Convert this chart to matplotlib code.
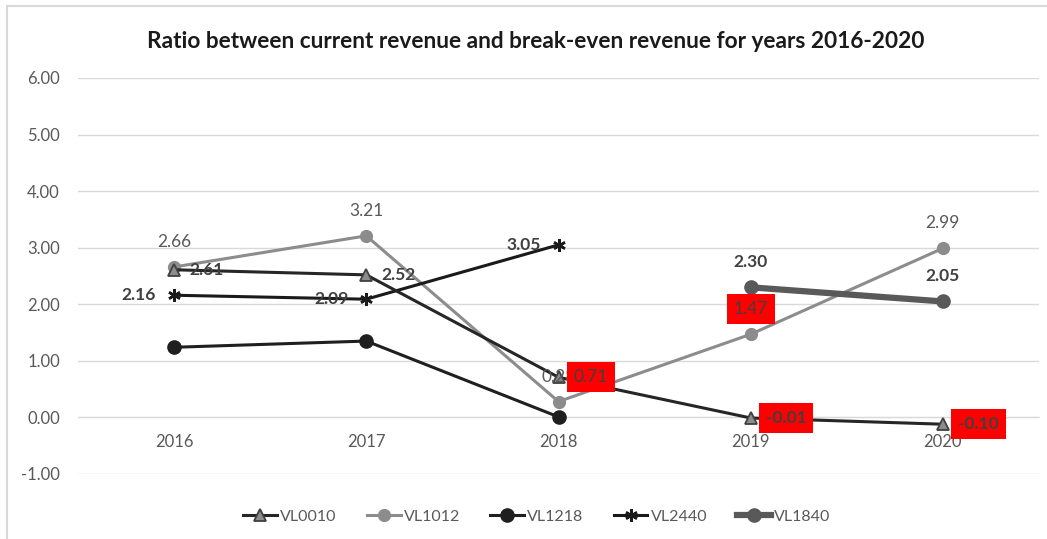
import numpy as np
import matplotlib
matplotlib.use("Agg")
import matplotlib.pyplot as plt
from matplotlib.patches import Rectangle

plt.rcParams['font.family'] = ['Lato', 'DejaVu Sans']

years = ['2016', '2017', '2018', '2019', '2020']
vl0010 = [2.61, 2.52, 0.71, -0.01, -0.12]
vl1012 = [2.66, 3.21, 0.28, 1.47, 2.99]
vl1218 = [1.24, 1.35, 0.01, np.nan, np.nan]
vl2440 = [2.16, 2.09, 3.05, np.nan, np.nan]
vl1840 = [np.nan, np.nan, np.nan, 2.30, 2.05]
labels_0010 = ['2.61', '2.52', '0.71', '-0.01', '-0.10']
labels_1012 = ['2.66', '3.21', '0.28', '1.47', '2.99']
labels_2440 = ['2.16', '2.09', '3.05', None, None]
labels_1840 = [None, None, None, '2.30', '2.05']
yticks = [-1, 0, 1, 2, 3, 4, 5, 6]

W, H = 1047, 539
fig = plt.figure(figsize=(W / 100, H / 100), dpi=100)
ax = fig.add_axes([78 / W, (H - 474) / H, (1039 - 78) / W, (474 - 78) / H])

# chart border (partially cropped)
fig.patches.append(Rectangle((7 / W, -0.1), 1.2, (H - 6) / H + 0.1, transform=fig.transFigure,
                             fill=False, edgecolor='#d9d9d9', linewidth=1.5))

x = np.arange(len(years))
PX = 0.72  # px -> points

ax.plot(x, vl1012, color='#8c8c8c', lw=2.2, marker='o', ms=8.5, label='VL1012', zorder=3)
ax.plot(x, vl0010, color='#262626', lw=2.2, marker='^', ms=8, mfc='#8c8c8c', mec='#404040',
        mew=1.3, label='VL0010', zorder=4)
ax.plot(x, vl1218, color='#1f1f1f', lw=2.2, marker='o', ms=9.5, label='VL1218', zorder=3)
ax.plot(x, vl2440, color='#1a1a1a', lw=2.2, marker=(6, 2, 0), ms=9, mew=1.8, label='VL2440', zorder=3)
ax.plot(x, vl1840, color='#595959', lw=4.5, marker='o', ms=9.5, label='VL1840', zorder=3)

ax.set_xlim(-0.5, 4.5)
ax.set_ylim(-1, 6)
ax.set_yticks(yticks)
ax.set_yticklabels([f'{v:.2f}' for v in yticks])
ax.set_xticks(x)
ax.set_xticklabels(years)
ax.grid(axis='y', color='#d9d9d9', lw=1)
ax.set_axisbelow(True)
for s in ['top', 'right', 'left']:
    ax.spines[s].set_visible(False)
ax.spines['bottom'].set_position(('data', 0))
ax.spines['bottom'].set_color('#d9d9d9')
ax.tick_params(axis='x', length=0, pad=12, labelsize=12, labelcolor='#595959')
ax.tick_params(axis='y', length=0, pad=13, labelsize=12, labelcolor='#595959')

txt = '#404040'
FS = 12.5
red = dict(boxstyle='square,pad=0.4', facecolor='#ff0000', edgecolor='none')

# VL0010 labels (right)
for i, (v, l) in enumerate(zip(vl0010, labels_0010)):
    bold = l not in ('0.71',)
    bb = red if i >= 2 else None
    ax.annotate(l, (i, v), xytext=(15 * PX, 0), textcoords='offset points', ha='left', va='center',
                fontsize=FS, color=txt, fontweight='bold' if bold else 'normal', bbox=bb, zorder=6)

# VL1012 labels (above)
for i, (v, l) in enumerate(zip(vl1012, labels_1012)):
    bb = red if l == '1.47' else None
    ax.annotate(l, (i, v), xytext=(0, 25 * PX), textcoords='offset points', ha='center', va='center',
                fontsize=FS, color='#595959' if bb is None else txt, bbox=bb, zorder=5)

# VL2440 labels (left)
for i, (v, l) in enumerate(zip(vl2440, labels_2440)):
    if l is None:
        continue
    ax.annotate(l, (i, v), xytext=(-18 * PX, 0), textcoords='offset points', ha='right', va='center',
                fontsize=FS, color=txt, fontweight='bold', zorder=5)

# VL1840 labels (above)
for i, (v, l) in enumerate(zip(vl1840, labels_1840)):
    if l is None:
        continue
    ax.annotate(l, (i, v), xytext=(0, 25 * PX), textcoords='offset points', ha='center', va='center',
                fontsize=FS, color=txt, fontweight='bold', zorder=5)

fig.text(536 / W, 1 - 42 / H, 'Ratio between current revenue and break-even revenue for years 2016-2020',
         ha='center', va='center', fontsize=16.3, fontweight='bold', color='#1a1a1a')

handles, labs = ax.get_legend_handles_labels()
order = ['VL0010', 'VL1012', 'VL1218', 'VL2440', 'VL1840']
hmap = dict(zip(labs, handles))
leg = fig.legend([hmap[o] for o in order], order, loc='center', bbox_to_anchor=(537 / W, 1 - 517 / H),
                 ncol=5, frameon=False, fontsize=11.5, handlelength=2.1, columnspacing=1.9,
                 handletextpad=0.2, numpoints=1)
for t in leg.get_texts():
    t.set_color('#595959')

fig.savefig('out.png', dpi=100)
